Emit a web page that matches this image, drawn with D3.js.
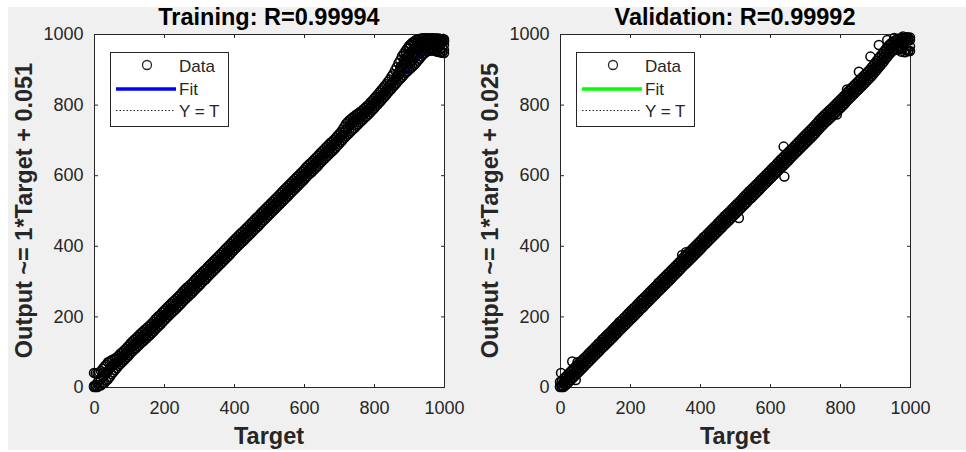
<!DOCTYPE html>
<html>
<head>
<meta charset="utf-8">
<script src="https://cdn.jsdelivr.net/npm/d3@7"></script>
<style>
    body { margin: 0; background: #ffffff; }
    svg { display: block; }
</style>
</head>
<body>
<div id="chart"></div>
<script>

// ---- data ----

var tickValues = [0, 200, 400, 600, 800, 1000];

// targets for the A rows (every 10) and B rows (offset by 5)
var targetsA = [0, 10, 20, 30, 40, 50, 60, 70, 80, 90,
    100, 110, 120, 130, 140, 150, 160, 170, 180, 190,
    200, 210, 220, 230, 240, 250, 260, 270, 280, 290,
    300, 310, 320, 330, 340, 350, 360, 370, 380, 390,
    400, 410, 420, 430, 440, 450, 460, 470, 480, 490,
    500, 510, 520, 530, 540, 550, 560, 570, 580, 590,
    600, 610, 620, 630, 640, 650, 660, 670, 680, 690,
    700, 710, 720, 730, 740, 750, 760, 770, 780, 790,
    800, 810, 820, 830, 840, 850, 860, 870, 880, 890,
    900, 910, 920, 930, 940, 950, 960, 970, 980, 990,
    1000];
var targetsB = [5, 15, 25, 35, 45, 55, 65, 75, 85, 95,
    105, 115, 125, 135, 145, 155, 165, 175, 185, 195,
    205, 215, 225, 235, 245, 255, 265, 275, 285, 295,
    305, 315, 325, 335, 345, 355, 365, 375, 385, 395,
    405, 415, 425, 435, 445, 455, 465, 475, 485, 495,
    505, 515, 525, 535, 545, 555, 565, 575, 585, 595,
    605, 615, 625, 635, 645, 655, 665, 675, 685, 695,
    705, 715, 725, 735, 745, 755, 765, 775, 785, 795,
    805, 815, 825, 835, 845, 855, 865, 875, 885, 895,
    905, 915, 925, 935, 945, 955, 965, 975, 985, 995];

// training outputs (middle / upper / lower part of the band)
var trainMidA = [3, 12, 22, 35, 45, 58, 66, 74, 84, 93,
    104, 115, 124, 134, 143, 152, 161, 171, 182, 191,
    202, 212, 222, 231, 241, 251, 262, 271, 280, 291,
    301, 311, 320, 331, 341, 351, 361, 371, 381, 391,
    402, 412, 422, 431, 441, 451, 461, 470, 481, 491,
    501, 511, 521, 531, 541, 551, 561, 571, 581, 591,
    601, 612, 621, 631, 641, 652, 662, 672, 681, 691,
    702, 714, 728, 741, 750, 758, 765, 773, 782, 792,
    803, 814, 825, 836, 848, 860, 872, 888, 905, 925,
    942, 953, 962, 968, 970, 972, 975, 976, 978, 979,
    980];
var trainHiA = [40, 38, 45, 58, 70, 76, 81, 88, 98, 107,
    118, 129, 138, 148, 157, 166, 175, 185, 196, 205,
    216, 226, 236, 245, 255, 265, 276, 285, 294, 305,
    315, 325, 334, 345, 355, 365, 375, 385, 395, 405,
    416, 426, 436, 445, 455, 465, 475, 484, 495, 505,
    515, 525, 535, 545, 555, 565, 575, 585, 595, 605,
    615, 626, 635, 645, 655, 666, 676, 686, 695, 705,
    716, 729, 745, 756, 764, 772, 779, 787, 796, 806,
    817, 828, 840, 852, 865, 880, 897, 917, 937, 952,
    966, 976, 983, 986, 988, 988, 987, 988, 987, 986,
    985];
var trainLoA = [0, 0, 5, 12, 22, 36, 48, 60, 70, 80,
    90, 101, 110, 120, 129, 138, 147, 157, 168, 177,
    188, 198, 208, 217, 227, 237, 248, 257, 266, 277,
    287, 297, 306, 317, 327, 337, 347, 357, 367, 377,
    388, 398, 408, 417, 427, 437, 447, 456, 467, 477,
    487, 497, 507, 517, 527, 537, 547, 557, 567, 577,
    587, 598, 607, 617, 627, 638, 648, 658, 667, 677,
    688, 699, 710, 720, 730, 740, 750, 759, 768, 778,
    789, 800, 811, 822, 834, 845, 856, 868, 878, 890,
    899, 908, 918, 930, 942, 950, 953, 953, 950, 948,
    946];
var trainMidB = [6, 20, 30, 40, 52, 62, 70, 80, 89, 99,
    110, 120, 129, 139, 148, 157, 166, 177, 187, 197,
    207, 217, 227, 236, 246, 257, 267, 276, 286, 296,
    306, 316, 326, 336, 346, 356, 366, 376, 386, 397,
    407, 417, 426, 436, 446, 456, 466, 476, 486, 496,
    506, 516, 526, 536, 546, 556, 566, 576, 586, 596,
    607, 617, 626, 636, 647, 657, 667, 677, 686, 697,
    708, 721, 735, 746, 754, 762, 769, 778, 787, 798,
    809, 820, 831, 842, 854, 866, 880, 897, 915, 934,
    948, 958, 965, 969, 971, 973, 975, 977, 978, 979];
var trainHiB = [39, 42, 52, 63, 72, 78, 84, 94, 103, 113,
    124, 134, 143, 153, 162, 171, 180, 191, 201, 211,
    221, 231, 241, 250, 260, 271, 281, 290, 300, 310,
    320, 330, 340, 350, 360, 370, 380, 390, 400, 411,
    421, 431, 440, 450, 460, 470, 480, 490, 500, 510,
    520, 530, 540, 550, 560, 570, 580, 590, 600, 610,
    621, 631, 640, 650, 661, 671, 681, 691, 700, 711,
    722, 737, 751, 760, 768, 775, 782, 791, 800, 811,
    822, 834, 846, 858, 871, 887, 906, 926, 944, 959,
    971, 979, 984, 987, 988, 988, 988, 987, 987, 985];
var trainLoB = [0, 4, 10, 18, 28, 42, 54, 65, 75, 85,
    96, 106, 115, 125, 134, 143, 152, 163, 173, 183,
    193, 203, 213, 222, 232, 243, 253, 262, 272, 282,
    292, 302, 312, 322, 332, 342, 352, 362, 372, 383,
    393, 403, 412, 422, 432, 442, 452, 462, 472, 482,
    492, 502, 512, 522, 532, 542, 552, 562, 572, 582,
    593, 603, 612, 622, 633, 643, 653, 663, 672, 683,
    694, 705, 715, 725, 734, 744, 754, 764, 773, 784,
    795, 806, 817, 828, 840, 851, 862, 873, 884, 894,
    903, 913, 924, 936, 946, 952, 954, 952, 949, 947];
// extra training points in the thick top part
var trainExtraT = [865, 875, 885, 895, 895, 905, 905, 915, 915, 925, 935, 945, 945, 955, 960, 965, 975, 985, 990, 995, 1000, 1000,
    870, 880, 885, 890, 900, 905, 910, 920, 925, 930, 940, 950, 955, 965, 970, 980, 990, 1000,
    875, 890, 900, 910, 920, 930, 940];
var trainExtraY = [880, 895, 915, 935, 905, 950, 925, 960, 940, 958, 975, 980, 960, 965, 985, 960, 965, 970, 985, 960, 970, 955,
    885, 910, 925, 940, 960, 968, 945, 950, 975, 955, 965, 975, 985, 975, 980, 960, 970, 980,
    905, 915, 930, 935, 945, 962, 975];

// validation outputs
var valMidA = [2, 11, 21, 31, 41, 51, 61, 71, 81, 91,
    101, 111, 122, 131, 141, 151, 161, 172, 181, 191,
    201, 211, 221, 232, 241, 251, 261, 271, 282, 291,
    301, 311, 321, 331, 341, 352, 361, 371, 381, 391,
    401, 412, 421, 431, 441, 451, 461, 472, 481, 491,
    501, 511, 521, 531, 542, 551, 561, 571, 581, 591,
    601, 611, 621, 632, 641, 651, 661, 671, 681, 691,
    701, 711, 721, 731, 742, 753, 763, 772, 781, 791,
    801, 811, 822, 832, 842, 852, 862, 872, 882, 892,
    904, 916, 928, 942, 955, 965, 972, 976, 979, 981,
    983];
var valHiA = [14, 23, 33, 43, 53, 63, 73, 83, 93, 103,
    113, 123, 134, 143, 153, 163, 173, 184, 193, 203,
    213, 223, 233, 244, 253, 263, 273, 283, 294, 303,
    313, 323, 333, 343, 353, 364, 373, 383, 393, 403,
    413, 424, 433, 443, 453, 463, 473, 484, 493, 503,
    513, 523, 533, 543, 554, 563, 573, 583, 593, 603,
    613, 623, 633, 644, 653, 663, 673, 683, 693, 703,
    713, 723, 733, 744, 755, 765, 775, 784, 793, 803,
    813, 823, 834, 844, 854, 864, 874, 884, 894, 905,
    918, 931, 943, 956, 968, 977, 983, 987, 989, 990,
    990];
var valLoA = [0, 0, 9, 19, 29, 39, 49, 59, 69, 79,
    89, 99, 110, 119, 129, 139, 149, 160, 169, 179,
    189, 199, 209, 220, 229, 239, 249, 259, 270, 279,
    289, 299, 309, 319, 329, 340, 349, 359, 369, 379,
    389, 400, 409, 419, 429, 439, 449, 460, 469, 479,
    489, 499, 509, 519, 530, 539, 549, 559, 569, 579,
    589, 599, 609, 620, 629, 639, 649, 659, 669, 679,
    689, 699, 709, 719, 730, 741, 751, 760, 769, 779,
    789, 799, 810, 820, 830, 840, 850, 860, 870, 880,
    892, 904, 916, 929, 942, 952, 958, 960, 958, 955,
    952];
var valMidB = [6, 16, 26, 36, 46, 56, 66, 76, 86, 96,
    106, 116, 126, 136, 146, 156, 166, 176, 186, 196,
    206, 216, 226, 236, 246, 256, 266, 276, 286, 296,
    306, 316, 326, 336, 346, 357, 366, 376, 386, 396,
    406, 416, 426, 436, 446, 456, 466, 476, 486, 496,
    506, 516, 526, 536, 546, 556, 566, 576, 586, 596,
    606, 616, 626, 636, 646, 656, 666, 676, 686, 696,
    706, 716, 726, 737, 748, 758, 767, 776, 786, 796,
    806, 816, 827, 837, 847, 857, 867, 877, 887, 898,
    910, 922, 935, 948, 960, 968, 974, 977, 980, 982];
var valHiB = [18, 28, 38, 48, 58, 68, 78, 87, 98, 108,
    118, 127, 138, 148, 157, 168, 178, 187, 198, 208,
    218, 227, 238, 248, 257, 268, 278, 287, 298, 308,
    318, 327, 338, 348, 358, 369, 378, 388, 398, 408,
    418, 427, 438, 448, 457, 468, 478, 488, 497, 508,
    518, 527, 538, 548, 558, 568, 577, 588, 598, 608,
    618, 627, 638, 648, 658, 668, 677, 688, 698, 708,
    718, 728, 738, 749, 760, 770, 779, 788, 798, 808,
    818, 828, 839, 849, 859, 869, 879, 889, 899, 911,
    924, 937, 950, 962, 973, 981, 986, 988, 989, 990];
var valLoB = [0, 4, 14, 24, 34, 44, 54, 64, 74, 84,
    94, 104, 114, 124, 134, 144, 154, 164, 174, 184,
    194, 204, 214, 224, 234, 244, 254, 264, 274, 284,
    294, 304, 314, 324, 334, 345, 354, 364, 374, 384,
    394, 404, 414, 424, 434, 444, 454, 464, 474, 484,
    494, 504, 514, 524, 534, 544, 554, 564, 574, 584,
    594, 604, 614, 624, 634, 644, 654, 664, 674, 684,
    694, 704, 714, 725, 736, 746, 755, 764, 774, 784,
    794, 804, 815, 825, 835, 845, 855, 865, 875, 886,
    898, 910, 922, 935, 947, 955, 958, 958, 955, 952];
// isolated validation points off the band
var valOddT = [3, 35, 50, 45, 349, 360, 511, 639, 641, 791, 820, 854, 887, 911, 935, 955, 965, 975, 985, 995, 1000, 990, 980];
var valOddY = [40, 72, 70, 20, 374, 382, 479, 681, 596, 772, 843, 893, 936, 969, 983, 989, 955, 950, 948, 952, 965, 990, 993];

var panels = [
    {
        left: 94, title: "Training: R=0.99994", ylabel: "Output ~= 1*Target + 0.051",
        slope: 1, offset: 0.051, fitColor: "#0000ff",
        rowsA: [trainMidA, trainHiA, trainLoA], rowsB: [trainMidB, trainHiB, trainLoB],
        extraT: trainExtraT, extraY: trainExtraY
    },
    {
        left: 560, title: "Validation: R=0.99992", ylabel: "Output ~= 1*Target + 0.025",
        slope: 1, offset: 0.025, fitColor: "#00ff00",
        rowsA: [valMidA, valHiA, valLoA], rowsB: [valMidB, valHiB, valLoB],
        extraT: valOddT, extraY: valOddY
    }
];

var width = 966, height = 452;
var axW = 350, top0 = 34, bot0 = 387;
var fontFamily = "'Liberation Sans', Arial, Helvetica, sans-serif";
var axColor = "#262626";
var svg;

function init() {
    setFigure();
    panels.forEach(drawPanel);
}

function setFigure() {
    svg = d3.select("#chart").append("svg")
        .attr("width", width)
        .attr("height", height)
        .attr("font-family", fontFamily);

    svg.append("rect")   // white outer margin
        .attr("width", width).attr("height", height).attr("fill", "#ffffff");
    svg.append("rect")   // matlab figure grey
        .attr("x", 8).attr("y", 7)
        .attr("width", width - 8).attr("height", 443)
        .attr("fill", "#f0f0f0");
}

function drawPanel(p) {
    var x = d3.scaleLinear().domain([0, 1000]).range([p.left, p.left + axW]);
    var y = d3.scaleLinear().domain([0, 1000]).range([bot0, top0]);
    var g = svg.append("g");
    var fmt = d3.format("d");

    // plot area
    g.append("rect")
        .attr("x", p.left + 0.5).attr("y", top0 + 0.5)
        .attr("width", axW).attr("height", bot0 - top0)
        .attr("fill", "#ffffff")
        .attr("stroke", axColor)
        .attr("stroke-width", 1);

    // ticks point inside on all four sides
    var bottom = g.append("g")
        .attr("transform", "translate(0," + (bot0 + 0.5) + ")")
        .call(d3.axisBottom(x).tickValues(tickValues).tickFormat(fmt).tickSizeInner(-3.5).tickSizeOuter(0).tickPadding(14));
    var left = g.append("g")
        .attr("transform", "translate(" + (p.left + 0.5) + ",0)")
        .call(d3.axisLeft(y).tickValues(tickValues).tickFormat(fmt).tickSizeInner(-3.5).tickSizeOuter(0).tickPadding(11));
    var topAx = g.append("g")
        .attr("transform", "translate(0," + (top0 + 0.5) + ")")
        .call(d3.axisTop(x).tickValues(tickValues).tickSizeInner(-3.5).tickSizeOuter(0).tickFormat(""));
    var right = g.append("g")
        .attr("transform", "translate(" + (p.left + axW + 0.5) + ",0)")
        .call(d3.axisRight(y).tickValues(tickValues).tickSizeInner(-3.5).tickSizeOuter(0).tickFormat(""));

    [bottom, left, topAx, right].forEach(function (a) {
        a.select(".domain").remove();
        a.attr("font-family", fontFamily)
            .attr("font-size", 18)
            .style("color", axColor);
    });

    // fit line and Y = T sit under the markers
    var line = d3.line().x(function (d) { return x(d[0]); }).y(function (d) { return y(d[1]); });
    g.append("path")
        .datum([[0, p.offset], [1000, p.slope * 1000 + p.offset]])
        .attr("d", line)
        .attr("fill", "none").attr("stroke", p.fitColor).attr("stroke-width", 2);
    g.append("path")
        .datum([[0, 0], [1000, 1000]])
        .attr("d", line)
        .attr("fill", "none").attr("stroke", axColor).attr("stroke-dasharray", "1.5,2");

    // data circles
    var pts = [];
    p.rowsA.forEach(function (row) {
        row.forEach(function (v, i) { pts.push([targetsA[i], v]); });
    });
    p.rowsB.forEach(function (row) {
        row.forEach(function (v, i) { pts.push([targetsB[i], v]); });
    });
    p.extraT.forEach(function (t, i) { pts.push([t, p.extraY[i]]); });

    g.append("g").selectAll("circle")
        .data(pts)
        .join("circle")
        .attr("cx", function (d) { return x(d[0]); })
        .attr("cy", function (d) { return y(d[1]); })
        .attr("r", 4.5)
        .attr("fill", "none")
        .attr("stroke", "#000000")
        .attr("stroke-width", 1.5);

    // title and labels
    var cx = p.left + axW / 2;
    g.append("text")
        .attr("x", cx).attr("y", 25)
        .attr("text-anchor", "middle")
        .attr("font-size", 23.5).attr("font-weight", "bold")
        .attr("fill", "#000000")
        .text(p.title);
    g.append("text")
        .attr("x", cx).attr("y", 444)
        .attr("text-anchor", "middle")
        .attr("font-size", 23.5).attr("font-weight", "bold")
        .attr("fill", axColor)
        .text("Target");
    g.append("text")
        .attr("transform", "translate(" + (p.left - 62) + "," + ((top0 + bot0) / 2) + ") rotate(-90)")
        .attr("text-anchor", "middle")
        .attr("font-size", 23.5).attr("font-weight", "bold")
        .attr("fill", axColor)
        .text(p.ylabel);

    drawLegend(g, p);
}

function drawLegend(g, p) {
    var lx = p.left;
    var leg = g.append("g");

    leg.append("rect")
        .attr("x", lx + 16.5).attr("y", 52.5)
        .attr("width", 118).attr("height", 74)
        .attr("fill", "#ffffff")
        .attr("stroke", axColor);

    leg.append("circle")
        .attr("cx", lx + 53).attr("cy", 65)
        .attr("r", 4.5)
        .attr("fill", "none").attr("stroke", axColor).attr("stroke-width", 1.3);
    leg.append("line")
        .attr("x1", lx + 22).attr("x2", lx + 82)
        .attr("y1", 89).attr("y2", 89)
        .attr("stroke", p.fitColor).attr("stroke-width", 3.5);
    leg.append("line")
        .attr("x1", lx + 22).attr("x2", lx + 81)
        .attr("y1", 110.5).attr("y2", 110.5)
        .attr("stroke", axColor).attr("stroke-dasharray", "1.5,2");

    leg.selectAll("text.entry")
        .data(["Data", "Fit", "Y = T"])
        .join("text")
        .attr("class", "entry")
        .attr("x", lx + 85)
        .attr("y", function (d, i) { return 72 + i * 22.5; })
        .attr("font-size", 17)
        .attr("fill", axColor)
        .text(function (d) { return d; });
}

window.onload = init;

</script>
</body>
</html>
